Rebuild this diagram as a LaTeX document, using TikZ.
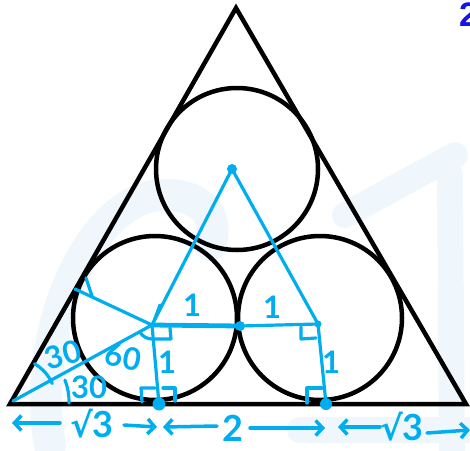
\documentclass[tikz,border=0pt]{standalone}
\usepackage{fontspec}
\setmainfont{Lato}
\newfontfamily\djv{DejaVu Sans}
\newfontfamily\lsb{Liberation Sans}
\usetikzlibrary{arrows.meta}
\definecolor{hb}{RGB}{0,174,239}
\definecolor{wmc}{RGB}{240,247,252}
\definecolor{qb}{RGB}{20,20,230}
\begin{document}
\begin{tikzpicture}[x=1pt,y=-1pt,
  blk/.style={line width=4.5pt, black},
  bl/.style={line width=3.2pt, hb, line cap=round, line join=round},
  lab/.style={text=hb, font=\bfseries\fontsize{31}{31}\selectfont, inner sep=0pt},
  big/.style={text=hb, font=\bfseries\fontsize{36}{36}\selectfont, inner sep=0pt},
  dimarr/.style={hb, line width=3.5pt, line cap=round, -{Straight Barb[length=7pt,width=15pt]}},
  wmark/.style={wmc, line width=32pt, line cap=round}]
\path[use as bounding box] (0,0) rectangle (470,450);
\clip (0,0) rectangle (470,450);
% faint watermark
\draw[wmark] (50,445) .. controls (30,330) and (90,200) .. (160,195) .. controls (200,193) and (220,215) .. (210,245);
\draw[wmark, line width=26pt] (345,215) -- (455,155);
\draw[wmark, line width=26pt] (450,175) -- (452,470);
\draw[wmark, line width=26pt] (300,430) -- (490,430);
% triangle and circles
\coordinate (A) at (236,8);
\coordinate (B) at (10,404);
\coordinate (C) at (466,404);
\draw[blk, line join=miter] (A) -- (B) -- (C) -- cycle;
\draw[blk] (237,169) circle[radius=81];
\draw[blk] (155,318) circle[radius=82];
\draw[blk] (320,318) circle[radius=82];
% blue construction
\coordinate (T) at (232,169);
\coordinate (L) at (152,325);
\coordinate (M) at (240,326);
\coordinate (R) at (318,324);
\coordinate (P1) at (159,404);
\coordinate (P2) at (326,404);
\coordinate (F) at (75,289);
\coordinate (Bb) at (13,401);
\draw[bl] (T) -- (L);
\draw[bl] (T) -- (R);
\draw[bl, line width=4.8pt] (L) -- (M);
\draw[bl] (M) -- (R);
\draw[bl] (L) -- (P1);
\draw[bl] (R) -- (P2);
\draw[bl] (L) -- (F);
\draw[bl] (L) -- (Bb);
\draw[bl] (160,305) -- (154,321);
% right-angle marks
\draw[bl] (86,278) -- (92,296);
\draw[bl] (153,339) -- (171,339) -- (170,328);
\draw[bl] (301,327) -- (301,339) -- (316,338);
\draw[bl] (142,402) -- (141,388) -- (155,388);
\draw[bl] (163,388) -- (175,388) -- (175,401);
\draw[bl] (307,403) -- (307,388) -- (322,388);
% angle arcs
\draw[bl] (L) ++(90:14) arc[start angle=90, end angle=150, radius=14];
\draw[bl] (Bb) ++(-60:43) arc[start angle=-60, end angle=-24, radius=43];
\draw[bl] (Bb) ++(-22:56) arc[start angle=-22, end angle=2, radius=56];
% dots
\fill[hb] (T) circle[radius=5];
\fill[hb] (M) circle[radius=5];
\fill[hb] (R) circle[radius=3.5];
\fill[hb] (P1) circle[radius=6.5];
\fill[hb] (P2) circle[radius=6];
% labels
\node[lab, rotate=16] (a30u) at (63,355) {30};
\node[lab] (a30l) at (89,387) {30};
\node[lab, rotate=-10] (a60) at (123,357) {60};
\node[lab] (o1) at (192,305) {1};
\node[lab] (o2) at (272,307) {1};
\node[lab] (o3) at (167,362) {1};
\node[lab] (o4) at (331,362) {1};
\node[big] (s1) at (92,424) {{\djv\fontsize{34}{34}\selectfont √}3};
\node[big] (two) at (233,428) {2};
\node[big] (s2) at (402,427) {{\djv\fontsize{34}{34}\selectfont √}3};
% dimension arrows
\coordinate (d1a) at (60,423); \coordinate (d1b) at (12,423);
\coordinate (d2a) at (124,425); \coordinate (d2b) at (157,427);
\coordinate (d3a) at (217,426); \coordinate (d3b) at (163,427);
\coordinate (d4a) at (250,428); \coordinate (d4b) at (325,428);
\coordinate (d5a) at (380,427); \coordinate (d5b) at (338,427);
\coordinate (d6a) at (427,433); \coordinate (d6b) at (470,430);
\draw[dimarr] (d1a) -- (d1b);
\draw[dimarr] (d2a) -- (d2b);
\draw[dimarr] (d3a) -- (d3b);
\draw[dimarr] (d4a) -- (d4b);
\draw[dimarr] (d5a) -- (d5b);
\draw[dimarr] (d6a) -- (d6b);
% question number (cut off)
\node[anchor=north west, inner sep=0pt, text=qb, font=\lsb\bfseries\fontsize{34}{34}\selectfont] (qn) at (459,3) {2};
\end{tikzpicture}
\end{document}
